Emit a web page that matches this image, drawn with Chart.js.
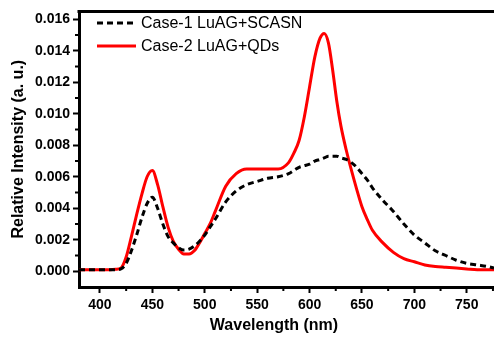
<!DOCTYPE html>
<html>
<head>
<meta charset="utf-8">
<script src="https://cdn.jsdelivr.net/npm/chart.js@4.4.0/dist/chart.umd.min.js"></script>
<style>
  html, body { margin: 0; padding: 0; background: #fff; }
  #wrap { width: 494px; height: 339px; position: relative; }
</style>
</head>
<body>
<div id="wrap"><canvas id="spectrum"></canvas></div>
<script>
// wavelength grid (nm)
const wavelengths = [380, 390, 400, 410, 415, 420, 425, 430, 435, 440, 445, 450, 455, 460, 465, 470, 475, 480, 485, 490, 495, 500, 505, 510, 520, 530, 540, 550, 560, 570, 580, 585, 590, 595, 600, 605, 610, 614, 618, 622, 626, 630, 635, 640, 645, 650, 655, 660, 670, 680, 690, 700, 710, 720, 730, 740, 750, 760, 770, 776]

const case1 = [0.0001, 0.0001, 0.0001, 0.0001, 0.0001, 0.00015, 0.0005, 0.0013, 0.0023, 0.0034, 0.0043, 0.0047, 0.0040, 0.0030, 0.0022, 0.0018, 0.0015, 0.00135, 0.0014, 0.0016, 0.0019, 0.0023, 0.0028, 0.0033, 0.0044, 0.0051, 0.0055, 0.0057, 0.0059, 0.0060, 0.0062, 0.0064, 0.0066, 0.0067, 0.0068, 0.0070, 0.0071, 0.0072, 0.0073, 0.0073, 0.0073, 0.0072, 0.0071, 0.0069, 0.0066, 0.0062, 0.0058, 0.0053, 0.0045, 0.0038, 0.0030, 0.0023, 0.0018, 0.0013, 0.0010, 0.0007, 0.0005, 0.0004, 0.0003, 0.0002]

const case2 = [0.0001, 0.0001, 0.0001, 0.0001, 0.00012, 0.0002, 0.0009, 0.0022, 0.0036, 0.0049, 0.0060, 0.0064, 0.0055, 0.0041, 0.0028, 0.0019, 0.0014, 0.0011, 0.0011, 0.0013, 0.0018, 0.0024, 0.0030, 0.0038, 0.0054, 0.0062, 0.0065, 0.0065, 0.0065, 0.0065, 0.0069, 0.0075, 0.0083, 0.0098, 0.0117, 0.0136, 0.0148, 0.0151, 0.0145, 0.0128, 0.0108, 0.0092, 0.0077, 0.0064, 0.0052, 0.0041, 0.0033, 0.0026, 0.0018, 0.0012, 0.0008, 0.0006, 0.0004, 0.0003, 0.00025, 0.0002, 0.00015, 0.0001, 0.0001, 0.0001]

const xTicks = [400, 450, 500, 550, 600, 650, 700, 750]
const xMinor = [425, 475, 525, 575, 625, 675, 725, 775]
const yTicks = [0, 0.002, 0.004, 0.006, 0.008, 0.010, 0.012, 0.014, 0.016]
const yMinor = [0.001, 0.003, 0.005, 0.007, 0.009, 0.011, 0.013, 0.015]

const labels = ['Case-1 LuAG+SCASN', 'Case-2 LuAG+QDs']

const toPoints = vals => wavelengths.map((w, i) => ({ x: w, y: vals[i] }))

// minor ticks, top frame line, inset legend, x title
const decor = {
  id: 'decor',
  afterDraw(chart) {
    const c = chart.ctx
    const a = chart.chartArea
    const xs = chart.scales.x
    const ys = chart.scales.y
    c.save()
    c.strokeStyle = '#000'
    c.lineWidth = 2
    xMinor.forEach(v => {
      const px = xs.getPixelForValue(v)
      c.beginPath(); c.moveTo(px, a.bottom); c.lineTo(px, a.bottom + 4); c.stroke()
    })
    yMinor.forEach(v => {
      const py = ys.getPixelForValue(v)
      c.beginPath(); c.moveTo(a.left, py); c.lineTo(a.left - 4, py); c.stroke()
    })
    c.lineWidth = 3
    c.beginPath(); c.moveTo(a.left - 1.5, a.top); c.lineTo(a.right, a.top); c.stroke()

    // legend
    chart.data.datasets.forEach((ds, i) => {
      const y = 24 + i * 23
      c.strokeStyle = ds.borderColor
      c.lineWidth = ds.borderWidth
      c.setLineDash(ds.borderDash || [])
      c.beginPath(); c.moveTo(97, y - 1); c.lineTo(136, y - 1); c.stroke()
      c.setLineDash([])
      c.fillStyle = '#000'
      c.font = '16px "Liberation Sans", Arial, sans-serif'
      c.textBaseline = 'middle'
      c.textAlign = 'left'
      c.fillText(ds.label, 141, y)
    })

    c.font = 'bold 16px "Liberation Sans", Arial, sans-serif'
    c.textAlign = 'center'
    c.textBaseline = 'middle'
    c.fillText('Wavelength (nm)', 274, 326)
    c.restore()
  }
}

const ctx = document.getElementById('spectrum')

new Chart(ctx, {
  type: 'line',
  data: {
    datasets: [{
      label: labels[0],
      data: toPoints(case1),
      borderColor: '#000',
      borderWidth: 3,
      borderDash: [6, 4],
      pointRadius: 0,
      cubicInterpolationMode: 'monotone'
    }, {
      label: labels[1],
      data: toPoints(case2),
      borderColor: '#ff0000',
      borderWidth: 3,
      pointRadius: 0,
      cubicInterpolationMode: 'monotone'
    }]
  },
  options: {
    responsive: true,
    maintainAspectRatio: false,
    animation: false,
    layout: { padding: { top: 8, right: 0, left: 0, bottom: 0 } },
    scales: {
      x: {
        type: 'linear',
        min: 380,
        max: 776,
        afterBuildTicks: s => { s.ticks = xTicks.map(v => ({ value: v })) },
        afterFit: s => { s.height = 52 },
        border: { display: true, color: '#000', width: 3 },
        grid: { drawOnChartArea: false, drawTicks: true, tickLength: 6, tickWidth: 2, tickColor: '#000' },
        ticks: {
          color: '#000',
          padding: 4,
          maxRotation: 0,
          font: { family: '"Liberation Sans", Arial, sans-serif', size: 14, weight: 'bold' }
        }
      },
      y: {
        min: -0.001,
        max: 0.0165,
        afterBuildTicks: s => { s.ticks = yTicks.map(v => ({ value: v })) },
        afterFit: s => { s.width = 79 },
        border: { display: true, color: '#000', width: 3 },
        grid: { drawOnChartArea: false, drawTicks: true, tickLength: 6, tickWidth: 2, tickColor: '#000' },
        ticks: {
          color: '#000',
          padding: 3,
          callback: v => v.toFixed(3),
          font: { family: '"Liberation Sans", Arial, sans-serif', size: 14, weight: 'bold' }
        },
        title: {
          display: true,
          text: 'Relative Intensity (a. u.)',
          color: '#000',
          padding: { top: 9, bottom: 0 },
          font: { family: '"Liberation Sans", Arial, sans-serif', size: 16, weight: 'bold' }
        }
      }
    },
    plugins: {
      legend: { display: false },
      tooltip: { enabled: false }
    }
  },
  plugins: [decor]
})
</script>
</body>
</html>
